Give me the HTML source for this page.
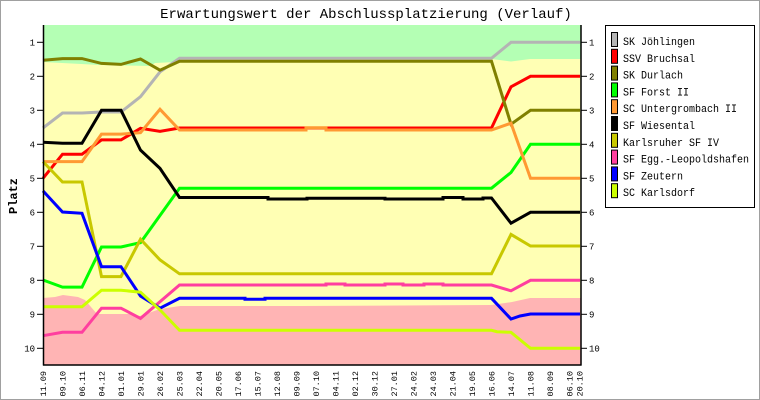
<!DOCTYPE html>
<html><head><meta charset="utf-8"><style>
html,body{margin:0;padding:0;background:#fff;}
svg{display:block;}
text{font-family:"Liberation Mono","DejaVu Sans Mono",monospace;}
</style></head><body>
<svg width="760" height="400" viewBox="0 0 760 400" xmlns="http://www.w3.org/2000/svg">
<rect x="0.5" y="0.5" width="759" height="399" fill="#fff" stroke="#a0a0a0" stroke-width="1"/>
<text x="366" y="18" font-size="14" text-anchor="middle" fill="#000">Erwartungswert der Abschlussplatzierung (Verlauf)</text>

<!-- bands -->
<rect x="43" y="25" width="538" height="340" fill="#ffffb4"/>
<polygon fill="#b4ffb4" points="43,25 581,25 581,59 530,59 511,61.5 491.5,59 180,59 175,62 155,63 150,66 100,65 43,62"/>
<polygon fill="#ffb4b4" points="43,298 55,297 63,295 78,297 85,300 97,314 130,314 140,316 160,309 180,306 300,306 491,305 505,303 512,302 530,298 581,298 581,365 43,365"/>

<!-- series -->
<g fill="none" stroke-width="3" stroke-linejoin="miter">
<polyline stroke="#b4b4b4" points="43,128 62.5,113 82,113 101.5,112 121,112 140.5,96.7 160,71.9 179.5,58.3 491.5,58.3 511,42.3 580,42.3"/>
<polyline stroke="#ff0000" points="43,178.3 62.5,154.2 82,154.2 101.5,139.9 121,139.9 140.5,128.3 160,131.4 179.5,128 491.5,128 511,86.8 530.5,76.3 580,76.3"/>
<polyline stroke="#808000" points="43,60.3 62.5,58.6 82,58.6 101.5,63.4 121,64.4 140.5,59 160,70.2 179.5,61.3 491.5,61.3 511,124.2 530.5,110.3 580,110.3"/>
<polyline stroke="#00ff00" points="43,280 62.5,287.1 82,287.1 101.5,247 121,247 140.5,242.6 179.5,188.2 491.5,188.2 511,172.5 530.5,144.3 580,144.3"/>
<polyline stroke="#ff9933" points="43,161.6 82,161.6 101.5,134.1 121,134.1 140.5,132.7 160,109.3 179.5,130 306,130 306,127.7 326,127.7 326,130 491.5,130 511,123.2 530.5,178.3 580,178.3"/>
<polyline stroke="#000000" points="43,142.3 62.5,143.3 82,143.3 101.5,110.3 121,110.3 140.5,150.1 160,168.4 179.5,197.5 268,197.5 268,199 307,199 307,198.3 385,198.3 385,199 443,199 443,197.5 463,197.5 463,199 483,199 483,198 491.5,198 511,223.2 530.5,212.3 580,212.3"/>
<polyline stroke="#c8c800" points="43,161.6 62.5,182 82,182 101.5,276.6 121,276.6 140.5,239.2 160,259.9 179.5,273.8 491.5,273.8 511,234.4 530.5,246 580,246"/>
<polyline stroke="#ff3f9f" points="43,335.7 62.5,332.3 82,332.3 101.5,308.2 121,308.2 140.5,318.4 179.5,285 326,285 326,284 345,284 345,285 385,285 385,284 403,284 403,285 424,285 424,284 443,284 443,285 491.5,285 511,290.8 530.5,280.3 580,280.3"/>
<polyline stroke="#0000ff" points="43,190.9 62.5,212 82,213.3 101.5,266.7 121,266.7 140.5,296 160,308.2 179.5,298.3 245,298.3 245,299.3 265,299.3 265,298.3 491.5,298.3 511,319 520,316 530.5,314 580,314"/>
<polyline stroke="#ccff00" points="43,306.8 82,306.8 101.5,290.2 121,290.2 140.5,292.2 160,309.9 179.5,330.3 491.5,330.3 497,331.7 511,332.3 530.5,348.3 580,348.3"/>
</g>

<!-- axes -->
<g stroke="#000" stroke-width="1.5" fill="none">
<line x1="43.5" y1="25" x2="43.5" y2="365.5"/>
<line x1="43" y1="365" x2="581.5" y2="365"/>
<line x1="581" y1="25" x2="581" y2="365.5"/>
</g>
<g stroke="#000" stroke-width="1">
<line x1="37" y1="42.3" x2="43" y2="42.3"/><line x1="581" y1="42.3" x2="587" y2="42.3"/>
<line x1="37" y1="76.3" x2="43" y2="76.3"/><line x1="581" y1="76.3" x2="587" y2="76.3"/>
<line x1="37" y1="110.3" x2="43" y2="110.3"/><line x1="581" y1="110.3" x2="587" y2="110.3"/>
<line x1="37" y1="144.3" x2="43" y2="144.3"/><line x1="581" y1="144.3" x2="587" y2="144.3"/>
<line x1="37" y1="178.3" x2="43" y2="178.3"/><line x1="581" y1="178.3" x2="587" y2="178.3"/>
<line x1="37" y1="212.3" x2="43" y2="212.3"/><line x1="581" y1="212.3" x2="587" y2="212.3"/>
<line x1="37" y1="246.3" x2="43" y2="246.3"/><line x1="581" y1="246.3" x2="587" y2="246.3"/>
<line x1="37" y1="280.3" x2="43" y2="280.3"/><line x1="581" y1="280.3" x2="587" y2="280.3"/>
<line x1="37" y1="314.3" x2="43" y2="314.3"/><line x1="581" y1="314.3" x2="587" y2="314.3"/>
<line x1="37" y1="348.3" x2="43" y2="348.3"/><line x1="581" y1="348.3" x2="587" y2="348.3"/>
</g>
<g font-size="9" fill="#000" text-anchor="end">
<text x="35" y="45.5">1</text><text x="35" y="79.5">2</text><text x="35" y="113.5">3</text><text x="35" y="147.5">4</text><text x="35" y="181.5">5</text>
<text x="35" y="215.5">6</text><text x="35" y="249.5">7</text><text x="35" y="283.5">8</text><text x="35" y="317.5">9</text><text x="35" y="351.5">10</text>
</g>
<g font-size="9" fill="#000" text-anchor="start">
<text x="589" y="45.5">1</text><text x="589" y="79.5">2</text><text x="589" y="113.5">3</text><text x="589" y="147.5">4</text><text x="589" y="181.5">5</text>
<text x="589" y="215.5">6</text><text x="589" y="249.5">7</text><text x="589" y="283.5">8</text><text x="589" y="317.5">9</text><text x="589" y="351.5">10</text>
</g>
<text x="17" y="196" font-size="12" font-weight="bold" text-anchor="middle" transform="rotate(-90 17 196)">Platz</text>

<!-- x labels -->
<g font-size="8.5" fill="#000" text-anchor="end">
<text x="46" y="371" transform="rotate(-90 46 371)">11.09</text>
<text x="65.5" y="371" transform="rotate(-90 65.5 371)">09.10</text>
<text x="85" y="371" transform="rotate(-90 85 371)">06.11</text>
<text x="104.5" y="371" transform="rotate(-90 104.5 371)">04.12</text>
<text x="124" y="371" transform="rotate(-90 124 371)">01.01</text>
<text x="143.5" y="371" transform="rotate(-90 143.5 371)">29.01</text>
<text x="163" y="371" transform="rotate(-90 163 371)">26.02</text>
<text x="182.5" y="371" transform="rotate(-90 182.5 371)">25.03</text>
<text x="202" y="371" transform="rotate(-90 202 371)">22.04</text>
<text x="221.5" y="371" transform="rotate(-90 221.5 371)">20.05</text>
<text x="241" y="371" transform="rotate(-90 241 371)">17.06</text>
<text x="260.5" y="371" transform="rotate(-90 260.5 371)">15.07</text>
<text x="280" y="371" transform="rotate(-90 280 371)">12.08</text>
<text x="299.5" y="371" transform="rotate(-90 299.5 371)">09.09</text>
<text x="319" y="371" transform="rotate(-90 319 371)">07.10</text>
<text x="338.5" y="371" transform="rotate(-90 338.5 371)">04.11</text>
<text x="358" y="371" transform="rotate(-90 358 371)">02.12</text>
<text x="377.5" y="371" transform="rotate(-90 377.5 371)">30.12</text>
<text x="397" y="371" transform="rotate(-90 397 371)">27.01</text>
<text x="416.5" y="371" transform="rotate(-90 416.5 371)">24.02</text>
<text x="436" y="371" transform="rotate(-90 436 371)">24.03</text>
<text x="455.5" y="371" transform="rotate(-90 455.5 371)">21.04</text>
<text x="475" y="371" transform="rotate(-90 475 371)">19.05</text>
<text x="494.5" y="371" transform="rotate(-90 494.5 371)">16.06</text>
<text x="514" y="371" transform="rotate(-90 514 371)">14.07</text>
<text x="533.5" y="371" transform="rotate(-90 533.5 371)">11.08</text>
<text x="553" y="371" transform="rotate(-90 553 371)">08.09</text>
<text x="572.5" y="371" transform="rotate(-90 572.5 371)">06.10</text>
<text x="582.5" y="371" transform="rotate(-90 582.5 371)">20.10</text>
</g>

<!-- legend -->
<rect x="605.5" y="25.5" width="149" height="182" fill="#fff" stroke="#000" stroke-width="1"/>
<g stroke="#000" stroke-width="1">
<rect x="611.5" y="32.5" width="6" height="14" fill="#b4b4b4"/>
<rect x="611.5" y="49.3" width="6" height="14" fill="#ff0000"/>
<rect x="611.5" y="66.1" width="6" height="14" fill="#808000"/>
<rect x="611.5" y="82.9" width="6" height="14" fill="#00ff00"/>
<rect x="611.5" y="99.7" width="6" height="14" fill="#ff9933"/>
<rect x="611.5" y="116.5" width="6" height="14" fill="#000000"/>
<rect x="611.5" y="133.3" width="6" height="14" fill="#c8c800"/>
<rect x="611.5" y="150.1" width="6" height="14" fill="#ff3f9f"/>
<rect x="611.5" y="166.9" width="6" height="14" fill="#0000ff"/>
<rect x="611.5" y="183.7" width="6" height="14" fill="#ccff00"/>
</g>
<g font-size="11" fill="#000">
<text x="623" y="45" textLength="72" lengthAdjust="spacingAndGlyphs">SK Jöhlingen</text>
<text x="623" y="61.8" textLength="72" lengthAdjust="spacingAndGlyphs">SSV Bruchsal</text>
<text x="623" y="78.6" textLength="60" lengthAdjust="spacingAndGlyphs">SK Durlach</text>
<text x="623" y="95.4" textLength="66" lengthAdjust="spacingAndGlyphs">SF Forst II</text>
<text x="623" y="112.2" textLength="114" lengthAdjust="spacingAndGlyphs">SC Untergrombach II</text>
<text x="623" y="129" textLength="72" lengthAdjust="spacingAndGlyphs">SF Wiesental</text>
<text x="623" y="145.8" textLength="96" lengthAdjust="spacingAndGlyphs">Karlsruher SF IV</text>
<text x="623" y="162.6" textLength="126" lengthAdjust="spacingAndGlyphs">SF Egg.-Leopoldshafen</text>
<text x="623" y="179.4" textLength="60" lengthAdjust="spacingAndGlyphs">SF Zeutern</text>
<text x="623" y="196.2" textLength="72" lengthAdjust="spacingAndGlyphs">SC Karlsdorf</text>
</g>
</svg>
</body></html>
